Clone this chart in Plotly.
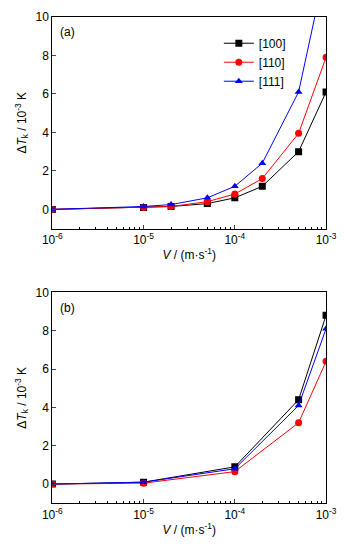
import plotly.graph_objects as go

# Panel (a)
xa = [1e-6, 1e-5, 2e-5, 5e-5, 1e-4, 2e-4, 5e-4, 1e-3]
a100 = [0, 0.1, 0.15, 0.3, 0.6, 1.2, 3.0, 6.1]
a110 = [0, 0.1, 0.15, 0.4, 0.8, 1.6, 3.95, 7.9]
a111 = [0, 0.15, 0.25, 0.6, 1.2, 2.4, 6.1, 12.7]

# Panel (b)
xb = [1e-6, 1e-5, 1e-4, 5e-4, 1e-3]
b100 = [0, 0.1, 0.9, 4.4, 8.8]
b110 = [0, 0.05, 0.65, 3.2, 6.4]
b111 = [0, 0.1, 0.8, 4.1, 8.1]

names = ["[100]", "[110]", "[111]"]
colors = ["#000000", "#ff0000", "#0000ff"]
symbols = ["square", "circle", "triangle-up"]

xtickvals = [1e-6, 1e-5, 1e-4, 1e-3]
xticktext = ["10<sup>-6</sup>", "10<sup>-5</sup>", "10<sup>-4</sup>", "10<sup>-3</sup>"]
minorvals = [m * 10 ** e for e in (-6, -5, -4) for m in range(2, 10)]

fig = go.Figure()
for i, ys in enumerate([a100, a110, a111]):
    fig.add_trace(go.Scatter(x=xa, y=ys, mode="lines+markers", name=names[i],
                             line=dict(color=colors[i], width=1),
                             marker=dict(symbol=symbols[i], size=7, color=colors[i]),
                             xaxis="x", yaxis="y"))
for i, ys in enumerate([b100, b110, b111]):
    fig.add_trace(go.Scatter(x=xb, y=ys, mode="lines+markers", name=names[i],
                             line=dict(color=colors[i], width=1),
                             marker=dict(symbol=symbols[i], size=7, color=colors[i]),
                             xaxis="x2", yaxis="y2", showlegend=False))

font = dict(family="Liberation Sans, Arial", size=12, color="#000")

def xax(anchor, domain):
    return dict(type="log", range=[-6, -3], domain=domain, anchor=anchor,
                tickvals=xtickvals, ticktext=xticktext, ticks="inside", ticklen=4,
                showline=True, linecolor="#000", linewidth=1, mirror=True,
                showgrid=False, zeroline=False, tickfont=font,
                minor=dict(tickvals=minorvals, ticks="inside", ticklen=2, tickcolor="#000", showgrid=False),
                title=dict(text="<i>V</i> / (m·s<sup>-1</sup>)", font=font, standoff=4))

def yax(anchor, domain):
    return dict(range=[-1, 10], domain=domain, anchor=anchor,
                tickvals=[0, 2, 4, 6, 8, 10], ticks="inside", ticklen=4,
                showline=True, linecolor="#000", linewidth=1, mirror=True,
                showgrid=False, zeroline=False, tickfont=font,
                title=dict(text="Δ<i>T</i><sub>k</sub> / 10<sup>-3</sup> K", font=font, standoff=6))

dom_x = [45 / 354, 336 / 354]
fig.update_layout(
    width=354, height=548, margin=dict(l=0, r=0, t=0, b=0),
    paper_bgcolor="white", plot_bgcolor="white", font=font,
    xaxis=xax("y", dom_x), yaxis=yax("x", [1 - 224.5 / 548, 1 - 10 / 548]),
    xaxis2=xax("y2", dom_x), yaxis2=yax("x2", [1 - 502.7 / 548, 1 - 289 / 548]),
    showlegend=True,
    legend=dict(x=222 / 354, y=1 - 22 / 548, xanchor="left", yanchor="top",
                bgcolor="rgba(0,0,0,0)", font=dict(family="Liberation Sans, Arial", size=12),
                tracegroupgap=0),
    annotations=[
        dict(text="(a)", x=0.02, y=0.97, xref="x domain", yref="y domain", showarrow=False,
             xanchor="left", yanchor="top", font=font),
        dict(text="(b)", x=0.02, y=0.97, xref="x2 domain", yref="y2 domain", showarrow=False,
             xanchor="left", yanchor="top", font=font),
    ],
)

fig.write_html("out.html")
